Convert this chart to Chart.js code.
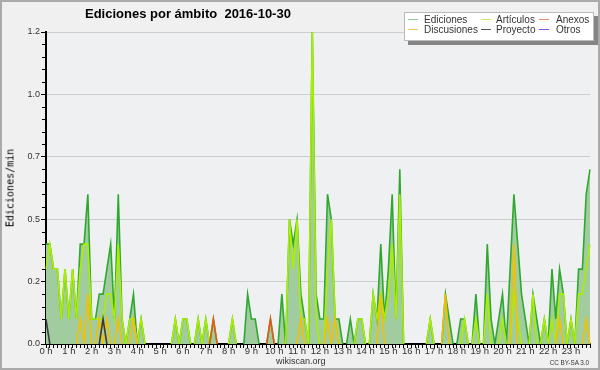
<!DOCTYPE html>
<html>
<head>
<meta charset="utf-8">
<script src="https://cdn.jsdelivr.net/npm/chart.js@4.4.1/dist/chart.umd.min.js"></script>
<style>
  html, body { margin: 0; padding: 0; }
  body { width: 600px; height: 370px; overflow: hidden; background: #f0f0f0;
         font-family: 'Liberation Sans', Arial, sans-serif; position: relative; }
  #chart { position: absolute; left: 0; top: 0; }
  #frame { position: absolute; left: 0; top: 0; width: 600px; height: 370px;
           box-sizing: border-box; border: 2px solid #aaa; pointer-events: none; }
  .title { position: absolute; left: 85px; top: 6px; font-weight: bold; font-size: 13px;
           white-space: pre; color: #000; }
  .ytitle { position: absolute; left: 10px; top: 188px; font-family: 'DejaVu Sans Mono', monospace;
            font-size: 10px; color: #000; white-space: nowrap;
            transform: translate(-50%, -50%) rotate(-90deg); }
  .foot { position: absolute; top: 356px; font-size: 9px; color: #333; white-space: nowrap; }
  .cc { position: absolute; top: 359px; right: 11px; font-size: 6.3px; color: #333; white-space: nowrap; }
  #legend { position: absolute; left: 404px; top: 12px; width: 188px; height: 27px;
            background: #fff; border: 1px solid #bbb; box-shadow: 4px 4px 0 #858585; }
  .lg-line { position: absolute; height: 1px; width: 10px; }
  .lg-text { position: absolute; font-size: 10px; line-height: 10px; color: #333; white-space: nowrap; }
</style>
</head>
<body>
<canvas id="chart" width="600" height="370"></canvas>
<div class="title">Ediciones por ámbito  2016-10-30</div>
<div class="ytitle">Ediciones/min</div>
<div id="legend"></div>
<div class="foot" style="left:276px">wikiscan.org</div>
<div class="cc">CC BY-SA 3.0</div>
<div id="frame"></div>
<script>
// tick labels, one per hour
var hourLabels = ['0 h','1 h','2 h','3 h','4 h','5 h','6 h','7 h','8 h','9 h','10 h','11 h',
                  '12 h','13 h','14 h','15 h','16 h','17 h','18 h','19 h','20 h','21 h','22 h','23 h'];

// edits per minute, 10-minute slots (6 per hour)
var ediciones = [
  0.4, 0.4, 0.3, 0.3, 0.1, 0.3,
  0.1, 0.3, 0.1, 0.4, 0.4, 0.6,
  0.1, 0.1, 0.2, 0.2, 0.3, 0.4,
  0.1, 0.6, 0.1, 0,   0.1, 0.2,
  0,   0.1, 0,   0,   0,   0,
  0,   0,   0,   0,   0.1, 0,
  0.1, 0.1, 0,   0,   0.1, 0,
  0.1, 0,   0.1, 0,   0,   0,
  0,   0.1, 0,   0,   0,   0.2,
  0.1, 0.1, 0,   0,   0,   0.1,
  0,   0,   0.2, 0,   0.5, 0.4,
  0.5, 0.2, 0.1, 0,   1.25, 0.2,
  0.1, 0.1, 0.6, 0.5, 0.1, 0.1,
  0,   0,   0.1, 0,   0.1, 0.1,
  0,   0,   0.2, 0.1, 0.4, 0.1,
  0.3, 0.6, 0.1, 0.7, 0,   0,
  0,   0,   0,   0,   0,   0.1,
  0,   0,   0,   0.2, 0.1, 0,
  0,   0.1, 0.1, 0,   0,   0.2,
  0,   0,   0.4, 0.1, 0,   0.1,
  0.2, 0,   0.3, 0.6, 0.4, 0.2,
  0.1, 0,   0.2, 0.1, 0,   0.1,
  0,   0.3, 0.1, 0.3, 0.2, 0,
  0.1, 0,   0.3, 0.3, 0.6, 0.7
];
var articulos = [
  0.3, 0.4, 0.3, 0.3, 0.1, 0.3,
  0.1, 0.3, 0.1, 0.3, 0.4, 0.4,
  0.1, 0.1, 0.1, 0.1, 0.2, 0.2,
  0.1, 0.4, 0.1, 0,   0.1, 0.1,
  0,   0.1, 0,   0,   0,   0,
  0,   0,   0,   0,   0.1, 0,
  0.1, 0.1, 0,   0,   0.1, 0,
  0.1, 0,   0,   0,   0,   0,
  0,   0.1, 0,   0,   0,   0,
  0,   0,   0,   0,   0,   0,
  0,   0,   0,   0,   0.5, 0.3,
  0.5, 0.1, 0.1, 0,   1.25, 0.1,
  0,   0,   0.3, 0.5, 0.1, 0,
  0,   0,   0,   0,   0.1, 0.1,
  0,   0,   0.2, 0.1, 0.2, 0.1,
  0.2, 0.4, 0.1, 0.6, 0,   0,
  0,   0,   0,   0,   0,   0.1,
  0,   0,   0,   0,   0,   0,
  0,   0,   0.1, 0,   0,   0.1,
  0,   0,   0.2, 0,   0,   0,
  0.1, 0,   0,   0.2, 0.1, 0,
  0,   0,   0.2, 0,   0,   0.1,
  0,   0.1, 0,   0.2, 0.2, 0,
  0.1, 0,   0.2, 0.2, 0.3, 0.4
];
var discusiones = [
  0, 0, 0, 0, 0, 0,
  0, 0, 0, 0.1, 0, 0.2,
  0, 0, 0.1, 0, 0.1, 0,
  0, 0.1, 0, 0, 0, 0.1,
  0, 0, 0, 0, 0, 0,
  0, 0, 0, 0, 0, 0,
  0, 0, 0, 0, 0, 0,
  0, 0, 0, 0, 0, 0,
  0, 0, 0, 0, 0, 0,
  0, 0, 0, 0, 0, 0,
  0, 0, 0, 0, 0, 0,
  0, 0.1, 0, 0, 0, 0,
  0, 0, 0.1, 0, 0.1, 0,
  0, 0, 0, 0, 0, 0,
  0, 0, 0, 0, 0.2, 0,
  0, 0, 0, 0, 0, 0,
  0, 0, 0, 0, 0, 0,
  0, 0, 0, 0.2, 0, 0,
  0, 0, 0, 0, 0, 0,
  0, 0, 0, 0, 0, 0,
  0, 0, 0, 0.4, 0, 0,
  0, 0, 0, 0, 0, 0,
  0, 0, 0, 0.1, 0, 0,
  0, 0, 0, 0, 0.1, 0
];
var anexos = [
  0, 0, 0, 0, 0, 0,
  0, 0, 0, 0, 0, 0,
  0, 0, 0, 0, 0, 0,
  0, 0, 0, 0, 0, 0,
  0, 0, 0, 0, 0, 0,
  0, 0, 0, 0, 0, 0,
  0, 0, 0, 0, 0, 0,
  0, 0, 0.1, 0, 0, 0,
  0, 0, 0, 0, 0, 0,
  0, 0, 0, 0, 0, 0.1,
  0, 0, 0, 0, 0, 0,
  0, 0, 0, 0, 0, 0,
  0, 0, 0, 0, 0, 0,
  0, 0, 0, 0, 0, 0,
  0, 0, 0, 0, 0, 0,
  0, 0, 0, 0, 0, 0,
  0, 0, 0, 0, 0, 0,
  0, 0, 0, 0, 0, 0,
  0, 0, 0, 0, 0, 0,
  0, 0, 0, 0, 0, 0,
  0, 0, 0, 0, 0, 0,
  0, 0, 0, 0, 0, 0,
  0, 0, 0, 0, 0, 0,
  0, 0, 0, 0, 0, 0
];
var proyecto = [
  0.1, 0, 0, 0, 0, 0,
  0, 0, 0, 0, 0, 0,
  0, 0, 0, 0.1, 0, 0,
  0, 0, 0, 0, 0, 0,
  0, 0, 0, 0, 0, 0,
  0, 0, 0, 0, 0, 0,
  0, 0, 0, 0, 0, 0,
  0, 0, 0, 0, 0, 0,
  0, 0, 0, 0, 0, 0,
  0, 0, 0, 0, 0, 0,
  0, 0, 0, 0, 0, 0,
  0, 0, 0, 0, 0, 0,
  0, 0, 0, 0, 0, 0,
  0, 0, 0, 0, 0, 0,
  0, 0, 0, 0, 0, 0,
  0, 0, 0, 0, 0, 0,
  0, 0, 0, 0, 0, 0,
  0, 0, 0, 0, 0, 0,
  0, 0, 0, 0, 0, 0,
  0, 0, 0, 0, 0, 0,
  0, 0, 0, 0, 0, 0,
  0, 0, 0, 0, 0, 0,
  0, 0, 0, 0, 0, 0,
  0, 0, 0, 0, 0, 0
];
var otros = [];
for (var k = 0; k < ediciones.length; k++) otros.push(0); // nothing in this namespace

// y axis
var yMax = 1.25;
var yStep = 0.25;
var yMinorStep = 0.05;

// 10-minute slot labels
var slots = [];
hourLabels.forEach(function (h) {
  for (var m = 0; m < 6; m++) slots.push(h + (m ? ' ' + (m * 10) : ''));
});

// legend: row-major, 3 columns
var legendNames  = ['Ediciones', 'Artículos', 'Anexos', 'Discusiones', 'Proyecto', 'Otros'];
var legendColors = ['#8ccf8c', '#c8ee55', '#ee8a5a', '#eecc55', '#555555', '#8a55ee'];

(function buildLegend() {
  var lg = document.getElementById('legend');
  var lineX = [3, 76, 134], textX = [19, 91, 151], lineY = [6, 16], textY = [2, 12];
  legendNames.forEach(function (name, i) {
    var c = i % 3, r = Math.floor(i / 3);
    var l = document.createElement('div');
    l.className = 'lg-line';
    l.style.left = lineX[c] + 'px'; l.style.top = lineY[r] + 'px';
    l.style.background = legendColors[i];
    lg.appendChild(l);
    var t = document.createElement('div');
    t.className = 'lg-text';
    t.style.left = textX[c] + 'px'; t.style.top = textY[r] + 'px';
    t.textContent = name;
    lg.appendChild(t);
  });
})();

// hide segments lying flat on the baseline
function hideZero(ctx) {
  return (ctx.p0.parsed.y === 0 && ctx.p1.parsed.y === 0) ? 'rgba(0,0,0,0)' : undefined;
}

function series(label, data, color, order, extra) {
  var ds = {
    label: label, data: data, borderColor: color, borderWidth: 1.6,
    pointRadius: 0, tension: 0, fill: false, order: order,
    segment: { borderColor: hideZero }
  };
  for (var key in extra) ds[key] = extra[key];
  return ds;
}

var plotBg = {
  id: 'plotBg',
  beforeDraw: function (chart) {
    var a = chart.chartArea, ctx = chart.ctx;
    ctx.save();
    ctx.fillStyle = '#eef0f2';
    ctx.fillRect(a.left, a.top, a.right - a.left, a.bottom - a.top);
    ctx.restore();
  }
};

var minorTicks = {
  id: 'minorTicks',
  afterDraw: function (chart) {
    var y = chart.scales.y, ctx = chart.ctx, left = chart.chartArea.left;
    ctx.save();
    ctx.strokeStyle = '#000';
    ctx.lineWidth = 1;
    ctx.beginPath();
    for (var v = yMinorStep; v < yMax; v += yMinorStep) {
      if (Math.abs(v / yStep - Math.round(v / yStep)) < 1e-6) continue;
      var py = Math.round(y.getPixelForValue(v)) + 0.5;
      ctx.moveTo(left - 4, py);
      ctx.lineTo(left, py);
    }
    ctx.stroke();
    ctx.restore();
  }
};

new Chart(document.getElementById('chart').getContext('2d'), {
  type: 'line',
  data: {
    labels: slots,
    datasets: [
      series('Ediciones', ediciones, '#30a830', 6, { fill: 'origin', backgroundColor: '#a0cca0' }),
      series('Artículos', articulos, '#aaee00', 5),
      series('Discusiones', discusiones, '#f2c000', 4),
      series('Anexos', anexos, '#e85a14', 3),
      series('Otros', otros, '#8844ee', 2),
      series('Proyecto', proyecto, '#3a3a3a', 1)
    ]
  },
  options: {
    responsive: false,
    animation: false,
    layout: { padding: { top: 32, right: 10, left: 0, bottom: 8 } },
    plugins: { legend: { display: false }, tooltip: { enabled: false }, title: { display: false } },
    scales: {
      x: {
        type: 'category',
        offset: false,
        afterFit: function (s) { s.height = 18; },
        border: { color: '#000', width: 2 },
        grid: { drawOnChartArea: false, tickLength: 4, color: '#000', lineWidth: 1 },
        ticks: {
          autoSkip: false, maxRotation: 0, padding: -2,
          color: '#333', font: { family: 'Liberation Sans', size: 9.5 },
          callback: function (v, i) { return i % 6 === 0 ? hourLabels[i / 6] : ''; }
        }
      },
      y: {
        min: 0, max: yMax,
        afterFit: function (s) { s.width = 46; },
        border: { color: '#000', width: 2 },
        grid: {
          tickLength: 5,
          tickColor: '#000',
          color: function (c) { return c.tick && c.tick.value === 0 ? 'rgba(0,0,0,0)' : '#cccccc'; }
        },
        ticks: {
          stepSize: yStep, padding: 1, color: '#333',
          font: { family: 'Liberation Sans', size: 9 },
          callback: function (v) { return (Math.floor(v * 10 + 1e-6) / 10).toFixed(1); }
        }
      }
    }
  },
  plugins: [plotBg, minorTicks]
});
</script>
</body>
</html>
